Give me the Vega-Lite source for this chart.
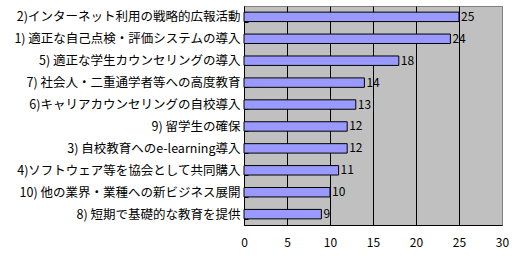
{
  "$schema": "https://vega.github.io/schema/vega-lite/v6.json",
  "width": 258,
  "height": 219,
  "autosize": {"type": "none"},
  "padding": {"left": 244, "top": 6, "right": 13, "bottom": 31},
  "background": "white",
  "config": {
    "view": {"fill": "#C0C0C0", "stroke": "#808080", "strokeWidth": 1},
    "font": "Noto Sans CJK JP"
  },
  "data": {
    "values": [
      {"item": "2)インターネット利用の戦略的広報活動", "count": 25},
      {"item": "1) 適正な自己点検・評価システムの導入", "count": 24},
      {"item": "5) 適正な学生カウンセリングの導入", "count": 18},
      {"item": "7) 社会人・二重通学者等への高度教育", "count": 14},
      {"item": "6)キャリアカウンセリングの自校導入", "count": 13},
      {"item": "9) 留学生の確保", "count": 12},
      {"item": "3) 自校教育へのe-learning導入", "count": 12},
      {"item": "4)ソフトウェア等を協会として共同購入", "count": 11},
      {"item": "10) 他の業界・業種への新ビジネス展開", "count": 10},
      {"item": "8) 短期で基礎的な教育を提供", "count": 9}
    ]
  },
  "encoding": {
    "y": {
      "field": "item",
      "type": "nominal",
      "sort": null,
      "scale": {"paddingInner": 0.57, "paddingOuter": 0.28},
      "axis": {
        "title": null,
        "domainColor": "black",
        "tickColor": "black",
        "tickBand": "extent",
        "tickSize": -4,
        "labelColor": "black",
        "labelFontSize": 12.5,
        "labelPadding": 8,
        "labelLimit": 300
      }
    },
    "x": {
      "field": "count",
      "type": "quantitative",
      "scale": {"domain": [0, 30], "nice": false},
      "axis": {
        "title": null,
        "values": [0, 5, 10, 15, 20, 25, 30],
        "grid": true,
        "gridColor": {"condition": {"test": "datum.value == 30", "value": "#808080"}, "value": "black"},
        "gridOpacity": 1,
        "domainColor": "black",
        "ticks": false,
        "labelColor": "black",
        "labelFontSize": 12,
        "labelPadding": 12,
        "labelFlush": false
      }
    }
  },
  "layer": [
    {
      "mark": {"type": "bar", "fill": "#9999FF", "stroke": "black", "strokeWidth": 1}
    },
    {
      "mark": {"type": "text", "align": "left", "baseline": "middle", "dx": 2, "fontSize": 12, "color": "black"},
      "encoding": {"text": {"field": "count", "type": "quantitative"}}
    }
  ]
}
